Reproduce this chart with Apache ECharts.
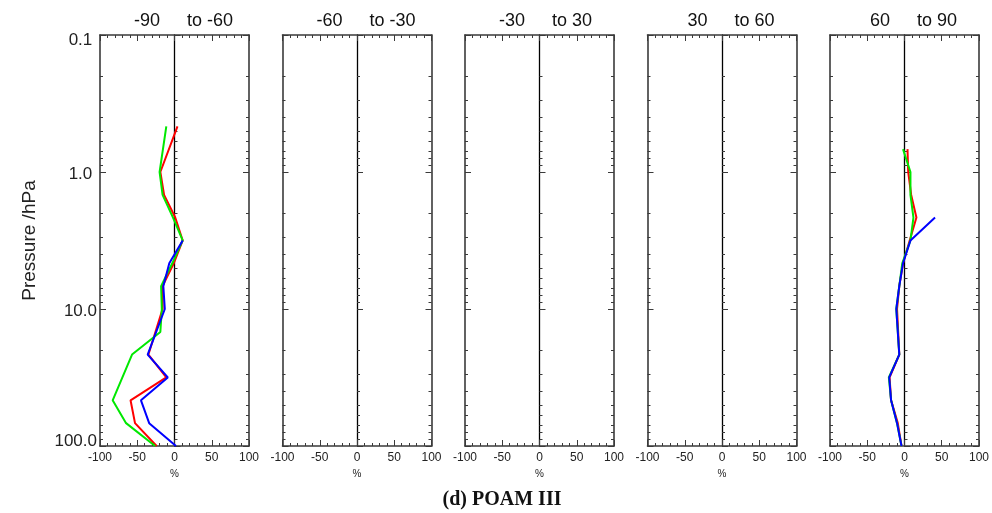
<!DOCTYPE html>
<html>
<head>
<meta charset="utf-8">
<script src="https://cdn.jsdelivr.net/npm/echarts@6/dist/echarts.min.js"></script>
<style>
  html, body { margin: 0; padding: 0; background: #ffffff; }
  #chart { width: 992px; height: 513px; }
</style>
</head>
<body>
<div id="chart"></div>
<script>
// Pressure levels (hPa) shared by all profiles
const pressureLevels = [0.464, 0.681, 1.0, 1.47, 2.15, 3.16, 4.64, 6.81, 10, 14.7, 21.5, 31.6, 46.4, 68.1, 100];

// Latitude band labels
const bandFrom = ['-90', '-60', '-30', '30', '60'];
const bandTo = ['to -60', 'to -30', 'to 30', 'to 60', 'to 90'];

// Axis tick values
const xTickValues = [-100, -50, 0, 50, 100];
const pressureMajorTicks = [0.1, 1, 10, 100];
const pressureMinorTicks = [0.2, 0.3, 0.4, 0.5, 0.6, 0.7, 0.8, 0.9,
                            2, 3, 4, 5, 6, 7, 8, 9,
                            20, 30, 40, 50, 60, 70, 80, 90];

// Relative differences (%) per pressure level, null where no value
const south90Red   = [4, null, -19, -14, 1, 11, -1, -16, -16, null, -35, -11, -59, -53, -24];
const south90Green = [-11, null, -20, -16, -2, 11, -3, -18, -17, -19, -57, null, -83, -65, -26];
const south90Blue  = [null, null, null, null, null, 11, -7, -15, -13, null, -36, -9, -45, -34, 2];

const north90Red   = [null, 4, 5, 9, 16, 7, -2, -7, -10, null, -7, -20, -18, -9, -4];
const north90Green = [null, -2, 8, 8, 12, 8, -3, -7, -11, null, -7, -21, -18, -10, -4];
const north90Blue  = [null, null, null, null, 41, 8, -2, -7, -11, null, -7, -20.5, -18, -10, -4];

const panelProfiles = [
  { red: south90Red, green: south90Green, blue: south90Blue },
  {},
  {},
  {},
  { red: north90Red, green: north90Green, blue: north90Blue }
];

// Layout of the five panels
const panelLefts = [100, 282.5, 465, 647.5, 830];
const panelWidth = 149;
const panelTop = 35;
const panelHeight = 411;

const lineColors = { red: '#ff0000', green: '#00e800', blue: '#0000ff' };
const frameColor = '#3a3a3a';
const sansFont = '"Liberation Sans", Arial, Helvetica, sans-serif';

const grid = [], xAxis = [], yAxis = [], series = [], graphic = [];

// Pressure label text: the end labels sit inside the frame
function pressureLabel(v) {
  const txt = Number(v).toFixed(1) + (v < 10 ? ' ' : '');
  if (v <= pressureMajorTicks[0] * 1.0001) return '{lo|' + txt + '}';
  if (v >= pressureMajorTicks[pressureMajorTicks.length - 1] * 0.9999) return '{hi|' + txt + '}';
  return '{mid|' + txt + '}';
}
const labelRich = {
  lo:  { fontSize: 17, color: '#222', fontFamily: sansFont, padding: [11, 0, 0, 0] },
  mid: { fontSize: 17, color: '#222', fontFamily: sansFont, padding: [5, 0, 0, 0] },
  hi:  { fontSize: 17, color: '#222', fontFamily: sansFont, padding: [0, 0, 10, 0] }
};

panelLefts.forEach((left, i) => {
  grid.push({ left: left, top: panelTop, width: panelWidth, height: panelHeight });

  const xBase = {
    type: 'value', gridIndex: i, min: xTickValues[0], max: xTickValues[xTickValues.length - 1],
    interval: xTickValues[1] - xTickValues[0],
    axisLine: { onZero: false, lineStyle: { color: frameColor, width: 1.6 } },
    axisTick: { inside: true, length: 6, lineStyle: { color: frameColor, width: 1 } },
    minorTick: { show: true, splitNumber: 5, length: 3, lineStyle: { color: frameColor, width: 1 } },
    splitLine: { show: false }, minorSplitLine: { show: false }
  };
  xAxis.push(Object.assign({}, xBase, {
    position: 'bottom',
    axisLabel: { show: true, fontSize: 12, color: '#222', margin: 6, fontFamily: sansFont },
    name: '%', nameLocation: 'middle', nameGap: 21,
    nameTextStyle: { fontSize: 10, color: '#222', fontFamily: sansFont }
  }));
  xAxis.push(Object.assign({}, xBase, { position: 'top', axisLabel: { show: false } }));

  // Log pressure axes: left frame, right frame, zero line
  const yLogBase = {
    type: 'log', logBase: 10, gridIndex: i,
    min: pressureMajorTicks[0], max: pressureMajorTicks[pressureMajorTicks.length - 1],
    inverse: true,
    axisLine: { onZero: false, lineStyle: { color: frameColor, width: 1.6 } },
    axisTick: { inside: true, length: 6, lineStyle: { color: frameColor, width: 1 } },
    axisLabel: { show: false },
    splitLine: { show: false }
  };
  const leftAxis = Object.assign({}, yLogBase, { position: 'left' });
  if (i === 0) {
    leftAxis.axisLabel = {
      show: true, margin: 3, formatter: pressureLabel, rich: labelRich
    };
    leftAxis.name = 'Pressure /hPa';
    leftAxis.nameLocation = 'middle';
    leftAxis.nameRotate = 90;
    leftAxis.nameGap = 61;
    leftAxis.nameTextStyle = { fontSize: 19, color: '#222', fontFamily: sansFont };
  }
  yAxis.push(leftAxis);
  yAxis.push(Object.assign({}, yLogBase, { position: 'right' }));
  yAxis.push(Object.assign({}, yLogBase, {
    position: 'left', offset: -panelWidth / 2,
    axisLine: { onZero: false, lineStyle: { color: '#000', width: 1.3 } }
  }));

  // Minor pressure ticks (2..9 per decade) on the same three lines
  const minorTickValues = pressureMinorTicks.map(p => Math.log10(p));
  const yMinorBase = {
    type: 'value', gridIndex: i, min: Math.log10(pressureMajorTicks[0]),
    max: Math.log10(pressureMajorTicks[pressureMajorTicks.length - 1]), inverse: true,
    axisLine: { show: false, onZero: false },
    axisTick: { inside: true, length: 3, customValues: minorTickValues, lineStyle: { color: frameColor, width: 1 } },
    axisLabel: { show: false },
    splitLine: { show: false }
  };
  yAxis.push(Object.assign({}, yMinorBase, { position: 'left' }));
  yAxis.push(Object.assign({}, yMinorBase, { position: 'right' }));
  yAxis.push(Object.assign({}, yMinorBase, { position: 'left', offset: -panelWidth / 2 }));

  // Profiles
  const prof = panelProfiles[i];
  ['red', 'green', 'blue'].forEach(key => {
    const vals = prof[key];
    if (!vals) return;
    const data = [];
    vals.forEach((v, k) => { if (v !== null) data.push([v, pressureLevels[k]]); });
    series.push({
      type: 'line', xAxisIndex: 2 * i, yAxisIndex: 6 * i, data: data,
      symbol: 'none', silent: true,
      lineStyle: { color: lineColors[key], width: 2 },
      itemStyle: { color: lineColors[key] }
    });
  });

  // Panel titles
  graphic.push({
    type: 'text', x: left + 60, y: 21,
    style: { text: bandFrom[i], align: 'right', verticalAlign: 'middle', font: '18px ' + sansFont, fill: '#111' }
  });
  graphic.push({
    type: 'text', x: left + 87, y: 21,
    style: { text: bandTo[i], align: 'left', verticalAlign: 'middle', font: '18px ' + sansFont, fill: '#111' }
  });
});

graphic.push({
  type: 'text', x: 502, y: 500,
  style: { text: '(d) POAM III', align: 'center', verticalAlign: 'middle',
           font: 'bold 20px "Liberation Serif", "Times New Roman", serif', fill: '#111' }
});

const chart = echarts.init(document.getElementById('chart'));
chart.setOption({
  animation: false,
  backgroundColor: '#ffffff',
  grid: grid,
  xAxis: xAxis,
  yAxis: yAxis,
  series: series,
  graphic: graphic
});
</script>
</body>
</html>
